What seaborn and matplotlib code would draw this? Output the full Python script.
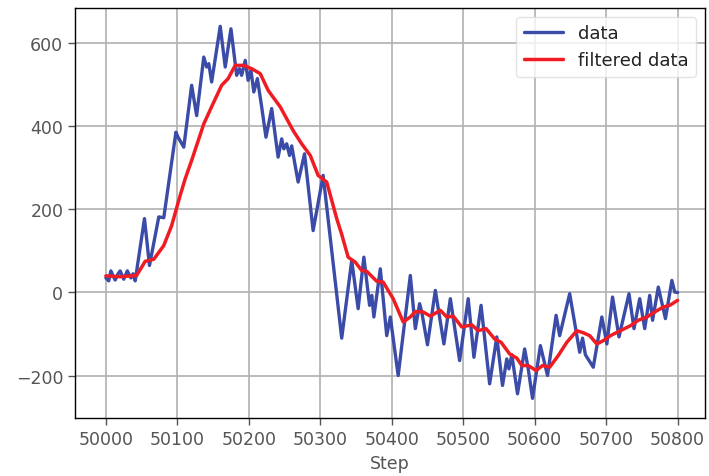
import matplotlib
matplotlib.use("Agg")
import matplotlib.pyplot as plt
import seaborn as sns
import pandas as pd

# Raw measurements (step, value) along the run
raw_steps = [50000, 50004, 50007, 50010, 50013, 50017, 50020, 50025, 50030, 50035, 50038, 50041,
             50054, 50061, 50074, 50081, 50098, 50101, 50109, 50120, 50127, 50137, 50141, 50144,
             50148, 50160, 50167, 50175, 50183, 50187, 50190, 50195, 50199, 50203, 50207, 50212,
             50218, 50224, 50232, 50241, 50246, 50249, 50253, 50257, 50260, 50269, 50278, 50290,
             50304, 50330, 50344, 50353, 50361, 50369, 50372, 50375, 50384, 50393, 50398, 50409,
             50426, 50433, 50439, 50442, 50450, 50461, 50473, 50482, 50495, 50507, 50515, 50525,
             50537, 50547, 50555, 50561, 50564, 50568, 50576, 50586, 50591, 50597, 50608, 50618,
             50630, 50635, 50649, 50663, 50667, 50671, 50682, 50694, 50701, 50709, 50718, 50732,
             50739, 50747, 50754, 50761, 50765, 50773, 50783, 50792, 50796, 50800]
raw_values = [35, 28, 52, 40, 30, 45, 52, 32, 52, 35, 45, 28,
              178, 65, 182, 180, 386, 374, 350, 499, 426, 567, 543, 551,
              507, 641, 543, 635, 523, 539, 523, 559, 511, 535, 483, 515,
              447, 374, 443, 326, 370, 346, 358, 330, 353, 266, 334, 149,
              282, -110, 77, -39, 85, -31, -7, -59, 57, -104, -59, -200,
              41, -87, -27, -47, -126, 5, -124, -15, -164, -15, -156, -31,
              -220, -107, -224, -160, -184, -150, -244, -136, -184, -255, -128, -200,
              -55, -104, -3, -144, -110, -150, -180, -59, -124, -11, -107, -3,
              -87, -15, -87, -7, -67, 13, -63, 29, 1, 0]

# Low-pass filtered signal
filt_steps = [50000, 50020, 50043, 50055, 50067, 50081, 50092, 50104, 50111, 50120, 50137,
              50150, 50162, 50171, 50181, 50192, 50204, 50216, 50227, 50232, 50244, 50262,
              50274, 50286, 50297, 50309, 50323, 50330, 50339, 50349, 50358, 50365, 50379,
              50388, 50402, 50416, 50426, 50433, 50444, 50454, 50468, 50477, 50486, 50498,
              50512, 50521, 50532, 50544, 50553, 50565, 50575, 50582, 50591, 50602, 50611,
              50621, 50633, 50645, 50659, 50668, 50677, 50687, 50696, 50706, 50720, 50734,
              50745, 50757, 50768, 50780, 50789, 50800]
filt_values = [40, 38, 41, 75, 80, 113, 161, 234, 274, 318, 406,
               455, 499, 515, 547, 547, 539, 527, 487, 475, 447, 390,
               358, 330, 282, 266, 178, 140, 85, 73, 53, 51, 27,
               25, -15, -71, -59, -46, -47, -57, -43, -59, -57, -83,
               -78, -92, -87, -112, -120, -148, -158, -176, -176, -188, -176,
               -180, -152, -120, -92, -97, -104, -124, -116, -104, -92, -80,
               -67, -59, -47, -35, -31, -19]

sns.set_style("ticks", {"axes.grid": True, "grid.color": "#b0b0b0",
                        "axes.edgecolor": "black", "xtick.color": "#555555",
                        "ytick.color": "#555555"})

fig = plt.figure(figsize=(7.09, 4.77), dpi=100)
ax = fig.add_axes([0.106, 0.121, 0.888, 0.860])

raw_df = pd.DataFrame({"Step": raw_steps, "value": raw_values})
filt_df = pd.DataFrame({"Step": filt_steps, "value": filt_values})

sns.lineplot(data=raw_df, x="Step", y="value", ax=ax, color="#3a4ba8",
             linewidth=2.4, label="data", sort=False)
sns.lineplot(data=filt_df, x="Step", y="value", ax=ax, color="#f01c24",
             linewidth=2.5, label="filtered data", sort=False)

ax.set_xticks(range(50000, 50801, 100))
ax.set_yticks([-200, 0, 200, 400, 600])
ax.set_xlim(49957, 50838)
ax.set_ylim(-303, 685)
ax.grid(True, color="#b0b0b0", linewidth=1.2)
ax.tick_params(axis="both", labelsize=12.5, colors="#555555", length=5, width=1)
ax.set_xlabel("Step", fontsize=12.5, color="#555555")
ax.set_ylabel("")
for s in ax.spines.values():
    s.set_color("black")
    s.set_linewidth(1.0)

leg = ax.legend(loc="upper right", fontsize=13, frameon=True, handlelength=2.2)
leg.get_frame().set_edgecolor("#dddddd")
for t in leg.get_texts():
    t.set_color("#222222")

fig.savefig("out.png", dpi=100)
